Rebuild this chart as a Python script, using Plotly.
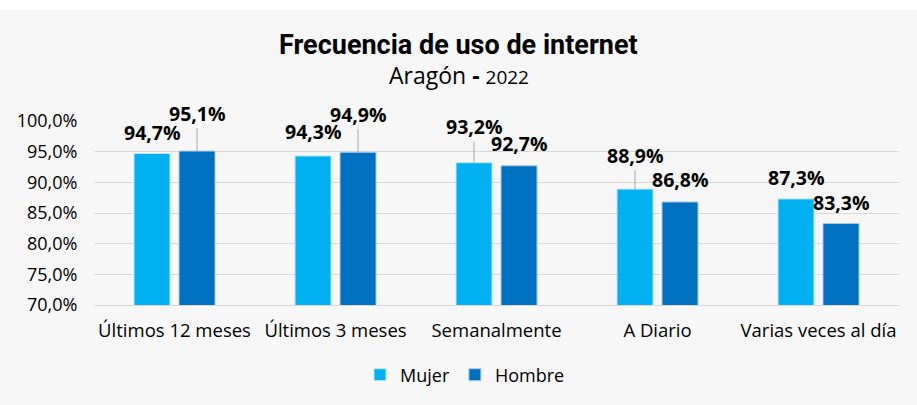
import plotly.graph_objects as go

# Frecuencia de uso de internet por sexo, Aragón 2022 (%)
categorias = ["Últimos 12 meses", "Últimos 3 meses", "Semanalmente", "A Diario", "Varias veces al día"]
mujer = [94.7, 94.3, 93.2, 88.9, 87.3]
hombre = [95.1, 94.9, 92.7, 86.8, 83.3]
tick_vals = [70, 75, 80, 85, 90, 95, 100]
tick_text = ["70,0%", "75,0%", "80,0%", "85,0%", "90,0%", "95,0%", "100,0%"]

# label offsets above bar tops (px); labels with long offsets get a leader line
off_mujer = [21, 24, 36, 34, 21]
off_hombre = [38, 38, 22, 22, 21]
lead_mujer = [False, False, True, True, False]
lead_hombre = [True, True, False, False, False]

C_MUJER = "#00b0f0"
C_HOMBRE = "#0070c0"
FONT = "Open Sans"
BG = "#f7f7f7"

W, HGT = 917, 405
LEFT, RIGHT = 94, 18
TOP, BOTTOM = 121, 305
H = BOTTOM - TOP
PW = W - LEFT - RIGHT

fig = go.Figure()
fig.add_bar(name="Mujer", x=categorias, y=mujer, marker_color=C_MUJER,
            marker_line=dict(color="#bfe6f7", width=1), base=0)
fig.add_bar(name="Hombre", x=categorias, y=hombre, marker_color=C_HOMBRE,
            marker_line=dict(color="#a9cbe6", width=1), base=0)


def fmt(v):
    return f"{v:.1f}".replace(".", ",") + "%"


annotations = []
for vals, offs, leads, shift in (
    (mujer, off_mujer, lead_mujer, -22.5),
    (hombre, off_hombre, lead_hombre, 22.5),
):
    for cat, v, off, lead in zip(categorias, vals, offs, leads):
        annotations.append(dict(
            x=cat, y=v, xref="x", yref="y", xshift=shift,
            text=f"<b>{fmt(v)}</b>",
            showarrow=True, arrowhead=0, arrowwidth=1, standoff=0,
            arrowcolor="#a6a6a6" if lead else "rgba(0,0,0,0)",
            ax=0, ay=-off, yanchor="middle",
            font=dict(family=FONT, size=19.5, color="#000000"),
        ))

# header centred on the full page width
cx = (W / 2 - LEFT) / PW
annotations.append(dict(
    x=cx, y=1 + (TOP - 45) / H, xref="paper", yref="paper", showarrow=False,
    yanchor="middle", text="<b>Frecuencia de uso de internet</b>",
    font=dict(family="Roboto", size=27, color="#000000"),
))
annotations.append(dict(
    x=cx, y=1 + (TOP - 75) / H, xref="paper", yref="paper", showarrow=False,
    yanchor="middle",
    text="Aragón <b>-</b> <span style='font-size:19px'>2022</span>",
    font=dict(family=FONT, size=23, color="#000000"),
))

fig.update_layout(
    width=W, height=HGT,
    margin=dict(l=LEFT, r=RIGHT, t=TOP, b=HGT - BOTTOM, pad=0),
    paper_bgcolor=BG, plot_bgcolor=BG,
    barmode="group", bargap=0.441, bargroupgap=0.2,
    annotations=annotations,
    showlegend=True,
    legend=dict(orientation="h", x=(465 - LEFT) / PW, xanchor="center",
                y=(BOTTOM - 375) / H, yanchor="middle",
                font=dict(family=FONT, size=18, color="#000000"),
                bgcolor="rgba(0,0,0,0)", itemwidth=30, traceorder="normal"),
    shapes=[dict(type="rect", xref="paper", yref="paper", x0=-0.2, x1=1.1,
                 y0=1 + (TOP - 10) / H, y1=1 + TOP / H + 0.05,
                 fillcolor="#ffffff", line_width=0, layer="below")],
)
fig.update_xaxes(
    showgrid=False, showline=True, linecolor="#d9d9d9", linewidth=1,
    ticks="outside", ticklen=9, tickcolor="rgba(0,0,0,0)",
    tickfont=dict(family=FONT, size=18.5, color="#000000"),
)
fig.update_yaxes(
    range=[70, 100], tickvals=tick_vals, ticktext=tick_text,
    showgrid=True, gridcolor="#d9d9d9", gridwidth=1, zeroline=False,
    ticks="outside", ticklen=12, tickcolor="rgba(0,0,0,0)",
    tickfont=dict(family=FONT, size=18, color="#000000"),
)

fig.write_html("out.html")
